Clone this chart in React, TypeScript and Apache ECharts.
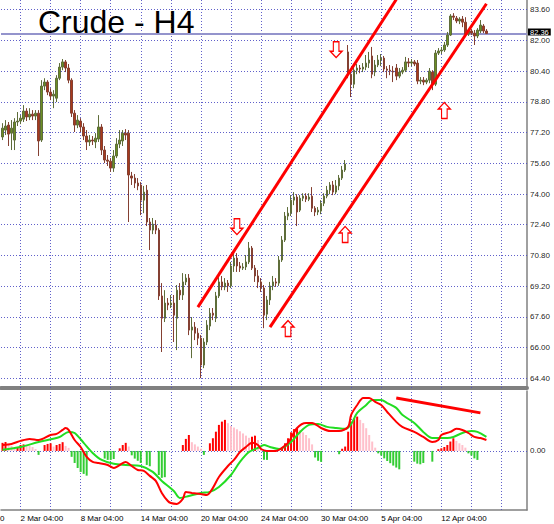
import React, { useEffect, useRef } from 'react';
import * as echarts from 'echarts';

const hours = ['04:00', '08:00', '12:00', '16:00', '20:00'];
const tradingDays = ['1 Mar', '2 Mar', '3 Mar', '6 Mar', '7 Mar', '8 Mar', '9 Mar', '10 Mar', '13 Mar', '14 Mar', '15 Mar', '16 Mar', '17 Mar', '20 Mar', '21 Mar', '22 Mar', '23 Mar', '24 Mar', '27 Mar', '28 Mar', '29 Mar', '30 Mar', '31 Mar', '3 Apr', '4 Apr', '5 Apr', '6 Apr', '10 Apr', '11 Apr', '12 Apr', '13 Apr', '14 Apr', '17 Apr', '18 Apr', '19 Apr'];
const categories: string[] = ['28 Feb 20:00', ...tradingDays.flatMap((d) => hours.map((h) => `${d} ${h}`))].slice(0, 175);

const tickLabels = ['2 Mar 04:00', '8 Mar 04:00', '14 Mar 04:00', '20 Mar 04:00', '24 Mar 04:00', '30 Mar 04:00', '5 Apr 04:00', '12 Apr 04:00'];
const priceTicks = [64.4, 66.0, 67.6, 69.2, 70.8, 72.4, 74.0, 75.6, 77.2, 78.8, 80.4, 82.0, 83.6];
const bidPrice = 82.36;
const oscTickValues = [2.4235, 0, -2.435];
const oscTickLabels = ['2.4235', '0.00', '-2.435'];

// [open, close, low, high]
const ohlc: number[][] = [
  [76.97, 77.43, 76.81, 77.69], [77.33, 77.54, 77.07, 77.85], [77.59, 77.12, 76.5, 77.75], [77.17, 77.43, 76.29, 77.85],
  [76.81, 77.75, 76.29, 77.95], [77.75, 77.8, 77.54, 78.27], [77.8, 77.95, 77.64, 78.11], [77.9, 78.32, 77.75, 78.63],
  [78.32, 78.01, 77.8, 78.47], [78.01, 78.16, 77.85, 78.47], [78.16, 78.06, 77.85, 78.37], [78.06, 78.21, 77.85, 78.37],
  [78.21, 76.76, 75.98, 78.37], [76.81, 79.62, 76.71, 79.93], [79.62, 79.83, 79.41, 80.03], [79.83, 79.31, 79.15, 79.93],
  [79.31, 79.1, 78.89, 79.51], [79.1, 79.2, 78.47, 79.41], [78.99, 80.03, 78.79, 80.19], [80.03, 80.61, 79.93, 80.82],
  [80.61, 80.88, 80.45, 81.03], [80.88, 80.56, 80.35, 80.98], [80.56, 79.93, 79.77, 80.77], [79.93, 78.21, 78.01, 80.03],
  [78.21, 77.59, 77.23, 78.37], [77.59, 77.85, 77.43, 78.11], [77.8, 77.49, 77.23, 77.95], [77.49, 77.02, 76.81, 77.69],
  [77.02, 76.71, 76.29, 77.33], [76.71, 76.81, 76.5, 77.07], [76.81, 76.76, 76.55, 77.02], [76.71, 76.91, 76.39, 77.17],
  [76.86, 77.49, 76.71, 78.11], [77.49, 76.29, 76.03, 77.64], [76.29, 75.77, 75.61, 76.5], [75.77, 75.71, 75.46, 76.03],
  [75.71, 75.35, 75.15, 75.87], [75.35, 75.98, 75.15, 76.29], [75.98, 76.6, 75.87, 76.91], [76.6, 76.81, 76.39, 77.33],
  [76.76, 77.17, 76.5, 77.33], [77.17, 77.07, 76.81, 77.38], [77.17, 74.99, 72.54, 77.33], [74.94, 74.83, 74.47, 75.15],
  [74.83, 74.57, 74.31, 75.04], [74.57, 74.42, 74.2, 74.83], [74.47, 73.68, 72.9, 74.62], [73.68, 74.1, 73.0, 74.42],
  [74.2, 72.54, 72.33, 74.47], [72.54, 72.12, 71.08, 72.75], [72.12, 72.43, 71.91, 72.75], [72.38, 72.12, 71.91, 72.64],
  [72.12, 68.69, 68.48, 72.22], [68.69, 67.53, 65.77, 69.36], [67.53, 68.32, 67.33, 68.99], [68.32, 68.22, 67.95, 68.58],
  [68.22, 68.32, 68.06, 68.74], [68.32, 67.69, 66.29, 68.74], [67.53, 68.99, 65.87, 69.26], [68.99, 68.74, 68.48, 69.36],
  [68.74, 69.42, 68.48, 69.88], [69.42, 69.62, 69.26, 69.83], [69.62, 66.91, 66.65, 69.83], [66.91, 67.07, 65.45, 67.59],
  [67.07, 66.75, 66.39, 67.33], [66.75, 66.49, 66.13, 67.01], [66.49, 65.09, 64.41, 66.65], [65.09, 66.29, 64.93, 66.49],
  [66.29, 67.17, 66.13, 67.43], [67.12, 67.79, 66.91, 68.06], [67.79, 67.69, 67.43, 68.06], [67.53, 68.69, 67.33, 68.9],
  [68.69, 69.42, 68.58, 69.67], [69.42, 69.16, 68.99, 69.73], [69.16, 69.36, 68.99, 69.62], [69.36, 69.21, 68.9, 69.52],
  [69.21, 70.25, 69.1, 70.46], [70.25, 70.66, 69.94, 70.98], [70.66, 70.25, 69.94, 70.92], [70.25, 70.14, 69.94, 70.46],
  [70.14, 70.2, 70.04, 70.4], [70.2, 70.46, 70.04, 70.82], [70.46, 71.18, 70.35, 71.5], [71.18, 70.14, 70.04, 71.29],
  [70.14, 69.73, 69.42, 70.3], [69.73, 69.42, 69.1, 70.04], [69.42, 69.1, 68.9, 69.62], [69.1, 67.69, 67.01, 69.26],
  [67.74, 68.48, 67.43, 68.69], [68.48, 69.21, 68.22, 69.42], [69.21, 69.42, 68.99, 69.73], [69.42, 69.36, 69.16, 69.62],
  [69.36, 70.56, 69.21, 70.77], [70.56, 71.6, 70.46, 71.81], [71.6, 72.85, 71.5, 73.06], [72.85, 73.0, 72.64, 73.32],
  [73.0, 73.68, 72.85, 73.94], [73.68, 73.84, 73.42, 74.1], [73.84, 73.06, 72.33, 73.99], [73.16, 73.78, 73.06, 73.94],
  [73.78, 73.89, 73.63, 74.04], [73.89, 73.73, 73.58, 74.04], [73.73, 73.84, 73.63, 74.04], [73.89, 73.26, 73.06, 74.36],
  [73.26, 73.06, 72.85, 73.37], [73.06, 73.16, 72.9, 73.32], [73.11, 73.52, 72.95, 73.68], [73.52, 73.89, 73.37, 74.04],
  [73.89, 74.2, 73.78, 74.42], [74.2, 74.47, 73.99, 74.62], [74.47, 74.1, 73.94, 74.68], [74.1, 74.42, 73.99, 74.73],
  [74.42, 74.83, 74.2, 74.99], [74.83, 75.25, 74.73, 75.46], [75.25, 75.56, 75.15, 75.77], [81.4, 80.24, 80.03, 81.76],
  [80.24, 79.72, 79.05, 80.45], [79.72, 80.45, 79.51, 80.67], [80.45, 80.56, 80.24, 80.77], [80.56, 80.51, 80.29, 80.72],
  [80.51, 80.61, 80.35, 80.82], [80.61, 80.82, 80.45, 81.24], [80.82, 80.98, 80.56, 81.4], [81.19, 80.24, 80.03, 81.66],
  [80.35, 80.72, 80.14, 80.98], [80.72, 80.98, 80.61, 81.24], [80.98, 81.08, 80.66, 81.29], [81.08, 80.51, 80.35, 81.19],
  [80.51, 80.45, 80.03, 80.66], [80.45, 80.4, 80.19, 80.72], [80.4, 80.35, 79.83, 80.66], [80.56, 80.14, 79.93, 80.77],
  [80.14, 80.35, 80.03, 80.56], [80.35, 80.45, 80.24, 80.61], [80.45, 80.88, 80.35, 81.14], [80.88, 80.82, 80.61, 81.08],
  [80.82, 80.88, 80.66, 81.03], [80.88, 80.77, 80.66, 80.98], [80.82, 79.88, 79.72, 80.98], [79.88, 79.93, 79.72, 80.09],
  [79.93, 79.83, 79.67, 80.09], [79.83, 79.93, 79.72, 80.03], [79.93, 80.4, 79.77, 80.56], [80.35, 79.72, 79.41, 80.45],
  [79.72, 81.34, 79.62, 81.5], [81.34, 81.45, 81.24, 81.6], [81.45, 81.5, 81.29, 81.66], [81.5, 81.76, 81.4, 81.92],
  [81.76, 82.28, 81.66, 82.44], [82.28, 83.27, 82.23, 83.37], [83.27, 83.21, 83.06, 83.42], [83.16, 83.01, 82.9, 83.27],
  [83.01, 83.11, 82.85, 83.21], [83.11, 82.95, 82.69, 83.27], [82.95, 82.33, 82.23, 83.21], [82.33, 82.49, 82.23, 82.59],
  [82.49, 82.38, 82.28, 82.59], [82.38, 82.23, 81.76, 82.54], [82.23, 82.54, 82.12, 82.64], [82.49, 82.8, 82.38, 83.06],
  [82.75, 82.49, 82.38, 82.85], [82.49, 82.36, 82.33, 82.59],
];

// oscillator histogram, one value per bar
const hist: number[] = [
  0.37, 0.41, 0.32, 0.23, 0.14, 0.18, 0.27, 0.3, 0.27, 0.23,
  0.18, 0.09, -0.18, 0, 0.27, 0.32, 0.35, 0.2, 0.27, 0.32,
  0.4, 0.23, 0.14, -0.27, -0.55, -0.78, -0.96, -1.05, -1.13, 0,
  0, 0, 0, 0, -0.35, -0.41, -0.41, -0.37, 0, 0.12,
  0.27, 0.37, 0.2, -0.2, -0.35, -0.45, -0.55, 0, -0.64, -0.7,
  0, 0, -1.1, -1.23, -1.2, 0, 0, 0, 0, 0,
  0.27, 0.55, 0.73, 0.4, 0.3, 0.2, 0.1, -0.18, 0, 0.35,
  0.58, 0.88, 1.19, 1.34, 1.42, 1.27, 1.14, 1.07, 0.99, 0.9,
  0.8, 0.7, 0.6, 0.65, 0.7, 0.5, 0.2, -0.4, -0.41, 0,
  0, 0, 0, 0.12, 0.35, 0.58, 0.85, 1.0, 1.05, 0.96,
  0.85, 0.73, 0.58, 0.3, -0.3, -0.45, -0.5, 0, 0, 0,
  0, 0, -0.15, 0.1, 0.2, 0.88, 1.34, 1.49, 1.57, 1.42,
  1.27, 1.04, 0.73, 0.43, 0.15, -0.11, -0.21, -0.34, -0.46, -0.56,
  -0.67, -0.76, -0.84, 0, 0, 0, 0, -0.49, -0.58, -0.61,
  -0.55, 0, 0, -0.49, 0, 0.08, 0.12, 0.18, 0.27, 0.43,
  0.58, 0.46, 0.35, 0.27, 0.15, -0.11, -0.21, -0.34, -0.41, 0,
  0, 0,
];

// [bar index, value]
const fastLine: number[][] = [
  [0, 0.27], [3, 0.32], [6, 0.46], [9, 0.55], [12, 0.5], [16, 0.73], [18, 0.78], [20, 0.96], [21, 1.05], [22, 0.96],
  [24, 0.5], [26, 0.18], [28, -0.27], [30, -0.5], [32, -0.55], [35, -0.64], [37, -0.78], [38, -0.73], [41, -0.5], [43, -0.69],
  [45, -0.87], [47, -0.91], [49, -1.14], [51, -1.37], [53, -1.92], [55, -2.29], [56, -2.38], [58, -2.42], [60, -2.19], [61, -1.88],
  [63, -1.92], [66, -1.97], [68, -2.01], [70, -1.69], [72, -1.19], [75, -0.69], [77, -0.41], [79, -0.05], [81, 0.18], [83, 0.37],
  [85, 0.27], [86, 0.09], [88, 0.0], [91, 0.0], [93, 0.14], [95, 0.37], [98, 1.05], [101, 1.28], [103, 1.28], [106, 1.05],
  [109, 0.91], [112, 0.91], [115, 1.1], [116, 1.65], [118, 2.1], [120, 2.42], [122, 2.42], [124, 2.24], [126, 2.1], [128, 1.78],
  [131, 1.33], [133, 1.1], [137, 0.87], [140, 0.64], [143, 0.41], [145, 0.5], [146, 0.73], [149, 0.87], [151, 1.01], [153, 0.96],
  [155, 0.82], [157, 0.64], [159, 0.59], [161, 0.5],
];
const slowLine: number[][] = [
  [0, 0.05], [6, 0.18], [12, 0.41], [19, 0.64], [22, 0.87], [24, 0.82], [27, 0.37], [30, -0.09], [33, -0.41], [37, -0.59],
  [41, -0.64], [46, -0.69], [50, -0.96], [53, -1.37], [57, -1.83], [59, -2.15], [62, -2.06], [66, -1.92], [69, -1.87], [72, -1.65],
  [76, -1.1], [79, -0.5], [82, -0.05], [85, 0.14], [87, 0.27], [89, 0.18], [92, 0.09], [96, 0.41], [99, 0.87], [102, 1.19],
  [105, 1.23], [108, 1.1], [111, 1.05], [114, 1.01], [116, 1.23], [118, 1.74], [121, 2.1], [123, 2.33], [126, 2.33], [128, 2.19],
  [131, 1.97], [133, 1.65], [137, 1.28], [140, 0.87], [143, 0.59], [145, 0.59], [148, 0.59], [150, 0.64], [153, 0.82], [156, 0.91],
  [158, 0.87], [161, 0.64],
];

// drawn annotations: [bar index, price/value]
const upperChannel: number[][] = [[65, 68.11], [131, 84.13]];
const lowerChannel: number[][] = [[89, 67.07], [161, 83.91]];
const arrowsUp: number[][] = [[95, 66.99], [114, 71.89], [147, 78.35]];
const arrowsDown: number[][] = [[78, 72.3], [111, 81.52]];
const divergenceLine: number[][] = [[131, 2.42], [159, 1.74]];

const FONT = '"Liberation Sans", Arial, sans-serif';
const GRID_COLOR = '#4f4fc4';
const AXIS_COLOR = '#808080';
const UP_ARROW = 'path://M6,0 L12,6.5 L8.8,6.5 L8.8,16 L3.2,16 L3.2,6.5 L0,6.5 Z';
const DOWN_ARROW = 'path://M3.2,0 L8.8,0 L8.8,9.5 L12,9.5 L6,16 L0,9.5 L3.2,9.5 Z';

const toCat = (pts: number[][]) => pts.map(([i, v]) => [categories[i], v]);
const vGrid = categories.filter((_, i) => i % 10 === 6);

const gridLineStyle = { color: GRID_COLOR, width: 1, type: [1, 2] as number[], opacity: 0.9 };

export default function App() {
  const ref = useRef<HTMLDivElement>(null);

  useEffect(() => {
    if (!ref.current) return;
    const chart = echarts.init(ref.current, null, { renderer: 'svg' });

    const axisLabelStyle = { fontSize: 8, fontFamily: FONT, color: '#000' };

    const option: any = {
      animation: false,
      backgroundColor: '#ffffff',
      grid: [
        { left: 1, top: 0, width: 526, height: 388 },
        { left: 1, top: 391, width: 526, height: 119 },
      ],
      xAxis: [
        {
          type: 'category', gridIndex: 0, data: categories, boundaryGap: true,
          axisLine: { show: true, onZero: false, lineStyle: { color: AXIS_COLOR, width: 4 } },
          axisTick: { show: false }, axisLabel: { show: false }, splitLine: { show: false },
        },
        {
          type: 'category', gridIndex: 1, data: categories, boundaryGap: true,
          axisLine: { show: true, onZero: false, lineStyle: { color: AXIS_COLOR, width: 1.5 } },
          axisTick: { show: false },
          axisLabel: {
            show: true,
            interval: (_idx: number, value: string) => tickLabels.includes(value),
            align: 'left', margin: 4, ...axisLabelStyle,
          },
          splitLine: { show: false },
        },
      ],
      yAxis: [
        {
          type: 'value', gridIndex: 0, position: 'right', min: 63.895, max: 84.105,
          axisLine: { show: true, lineStyle: { color: AXIS_COLOR, width: 1.5 } },
          axisTick: { show: false }, axisLabel: { show: false }, splitLine: { show: false },
        },
        {
          type: 'value', gridIndex: 1, position: 'right', min: -2.7, max: 2.74,
          axisLine: { show: true, lineStyle: { color: AXIS_COLOR, width: 1.5 } },
          axisTick: { show: false }, axisLabel: { show: false }, splitLine: { show: false },
        },
      ],
      series: [
        {
          type: 'candlestick', xAxisIndex: 0, yAxisIndex: 0, data: ohlc, barWidth: 2, z: 3,
          itemStyle: { color: '#6B8E23', color0: '#A83A1C', borderColor: '#5f6d3a', borderColor0: '#844032', borderWidth: 1 },
          markLine: {
            silent: true, symbol: ['none', 'none'], z: 1,
            data: [
              ...priceTicks.map((v) => ({
                yAxis: v,
                lineStyle: gridLineStyle,
                label: { show: true, position: 'end', distance: 3, formatter: v.toFixed(2), ...axisLabelStyle },
              })),
              ...vGrid.map((c) => ({ xAxis: c, lineStyle: gridLineStyle, label: { show: false } })),
              {
                yAxis: bidPrice,
                lineStyle: { color: '#9494cc', width: 2, type: 'solid' },
                label: {
                  show: true, position: 'end', distance: 1, formatter: bidPrice.toFixed(2),
                  backgroundColor: '#000', color: '#fff', padding: [0, 2, 0, 2], lineHeight: 7,
                  fontSize: 7.5, fontFamily: FONT, offset: [0, -1.5],
                },
              },
            ],
          },
        },
        {
          type: 'line', xAxisIndex: 0, yAxisIndex: 0, data: toCat(upperChannel), symbol: 'none', z: 4,
          lineStyle: { color: '#ff0000', width: 3 },
        },
        {
          type: 'line', xAxisIndex: 0, yAxisIndex: 0, data: toCat(lowerChannel), symbol: 'none', z: 4,
          lineStyle: { color: '#ff0000', width: 3 },
        },
        {
          type: 'scatter', xAxisIndex: 0, yAxisIndex: 0, data: toCat(arrowsUp), symbol: UP_ARROW, symbolSize: [12, 16], z: 5,
          itemStyle: { color: '#ffffff', borderColor: '#ff0000', borderWidth: 1.3, opacity: 1 },
        },
        {
          type: 'scatter', xAxisIndex: 0, yAxisIndex: 0, data: toCat(arrowsDown), symbol: DOWN_ARROW, symbolSize: [12, 16], z: 5,
          itemStyle: { color: '#ffffff', borderColor: '#ff0000', borderWidth: 1.3, opacity: 1 },
        },
        {
          type: 'bar', xAxisIndex: 1, yAxisIndex: 1, data: hist, barWidth: 2, z: 2,
          itemStyle: {
            color: (p: any) => {
              const v = hist[p.dataIndex];
              const prev = p.dataIndex > 0 ? hist[p.dataIndex - 1] : 0;
              if (v < 0) return '#33cc33';
              return v >= prev ? '#ff0000' : '#ffc0cb';
            },
          },
          markLine: {
            silent: true, symbol: ['none', 'none'], z: 1,
            data: [
              ...oscTickValues.map((v, k) => ({
                yAxis: v,
                lineStyle: v === 0 ? gridLineStyle : { opacity: 0, width: 0 },
                label: { show: true, position: 'end', distance: 3, formatter: oscTickLabels[k], ...axisLabelStyle },
              })),
              ...vGrid.map((c) => ({ xAxis: c, lineStyle: gridLineStyle, label: { show: false } })),
            ],
          },
        },
        {
          type: 'line', xAxisIndex: 1, yAxisIndex: 1, data: toCat(slowLine), symbol: 'none', smooth: 0.3, z: 3,
          lineStyle: { color: '#22dd22', width: 2 },
        },
        {
          type: 'line', xAxisIndex: 1, yAxisIndex: 1, data: toCat(fastLine), symbol: 'none', smooth: 0.3, z: 4,
          lineStyle: { color: '#ff0000', width: 2 },
        },
        {
          type: 'line', xAxisIndex: 1, yAxisIndex: 1, data: toCat(divergenceLine), symbol: 'none', z: 5,
          lineStyle: { color: '#ff0000', width: 3 },
        },
      ],
      graphic: [
        {
          type: 'text', x: 38, y: 22, z: 100,
          style: { text: 'Crude - H4', font: `32px ${FONT}`, fill: '#000', verticalAlign: 'middle' },
        },
        {
          type: 'text', x: 0, y: 518, z: 100,
          style: { text: '0', font: `8px ${FONT}`, fill: '#000', verticalAlign: 'middle' },
        },
      ],
    };

    chart.setOption(option);
    return () => chart.dispose();
  }, []);

  return (
    <div
      ref={ref}
      style={{ position: 'fixed', left: 0, top: 0, width: 554, height: 524, background: '#fff' }}
    />
  );
}
